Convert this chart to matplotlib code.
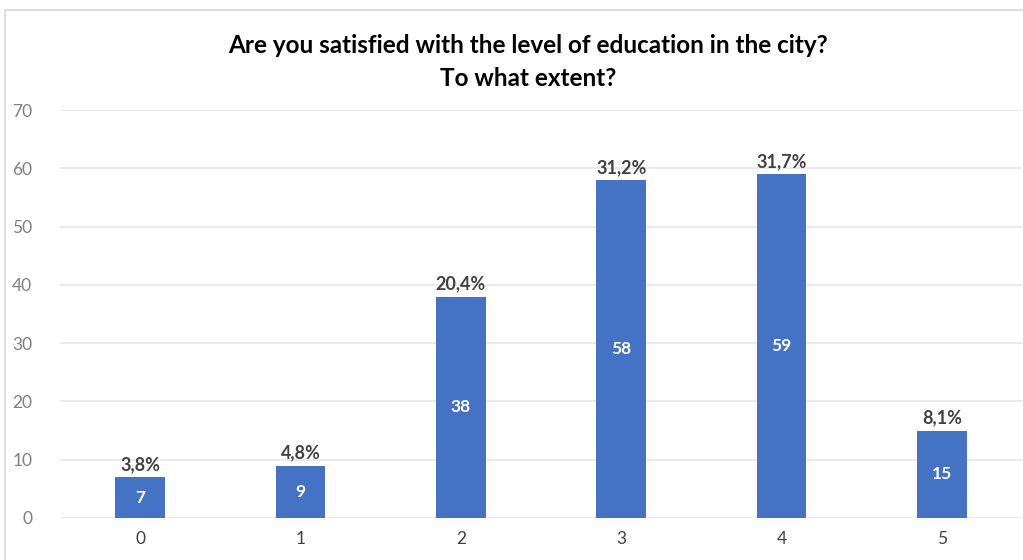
import matplotlib
matplotlib.use("Agg")
import matplotlib.pyplot as plt
from matplotlib.patches import Rectangle

categories = ["0", "1", "2", "3", "4", "5"]
counts = [7, 9, 38, 58, 59, 15]
shares = ["3,8%", "4,8%", "20,4%", "31,2%", "31,7%", "8,1%"]
y_ticks = [0, 10, 20, 30, 40, 50, 60, 70]

BAR_COLOR = "#4472C4"
FONT = ["Lato", "DejaVu Sans"]

fig = plt.figure(figsize=(10.23, 5.6), dpi=100)
fig.patches.append(Rectangle((5 / 1023, -0.1), 1.2, 1 - 10 / 560 + 0.1, transform=fig.transFigure,
                             fill=False, edgecolor="#d9d9d9", linewidth=1.2))

ax = fig.add_axes([60 / 1023, 42 / 560, 962 / 1023, 408 / 560])
x = range(len(categories))
bars = ax.bar(x, counts, width=0.31, color=BAR_COLOR, zorder=3)

ax.set_xlim(-0.5, len(categories) - 0.5)
ax.set_ylim(0, 70)
ax.set_yticks(y_ticks)
ax.set_xticks(list(x))
ax.set_xticklabels(categories, family=FONT, fontsize=12.5, color="#404040")
ax.set_yticklabels([str(t) for t in y_ticks], family=FONT, fontsize=12.5, color="#808080")
ax.tick_params(axis="both", length=0)
ax.tick_params(axis="x", pad=9)
ax.tick_params(axis="y", pad=20)
ax.grid(axis="y", color="#e6e6e6", linewidth=1.2, zorder=0)
for side in ax.spines.values():
    side.set_visible(False)

for bar, count, share in zip(bars, counts, shares):
    cx = bar.get_x() + bar.get_width() / 2
    ax.text(cx, count / 2, str(count), ha="center", va="center", color="white",
            fontsize=12.5, fontweight="bold", family=FONT, zorder=4)
    ax.annotate(share, (cx, count), xytext=(0, 3), textcoords="offset points",
                ha="center", va="bottom", color="#404040", fontsize=13,
                fontweight="bold", family=FONT)

fig.text(0.516, 0.918, "Are you satisfied with the level of education in the city?",
         ha="center", va="center", fontsize=17.5, fontweight="bold", family=FONT)
fig.text(0.516, 0.86, "To what extent?", ha="center", va="center",
         fontsize=17.5, fontweight="bold", family=FONT)

fig.savefig("out.png", dpi=100, facecolor="white")
